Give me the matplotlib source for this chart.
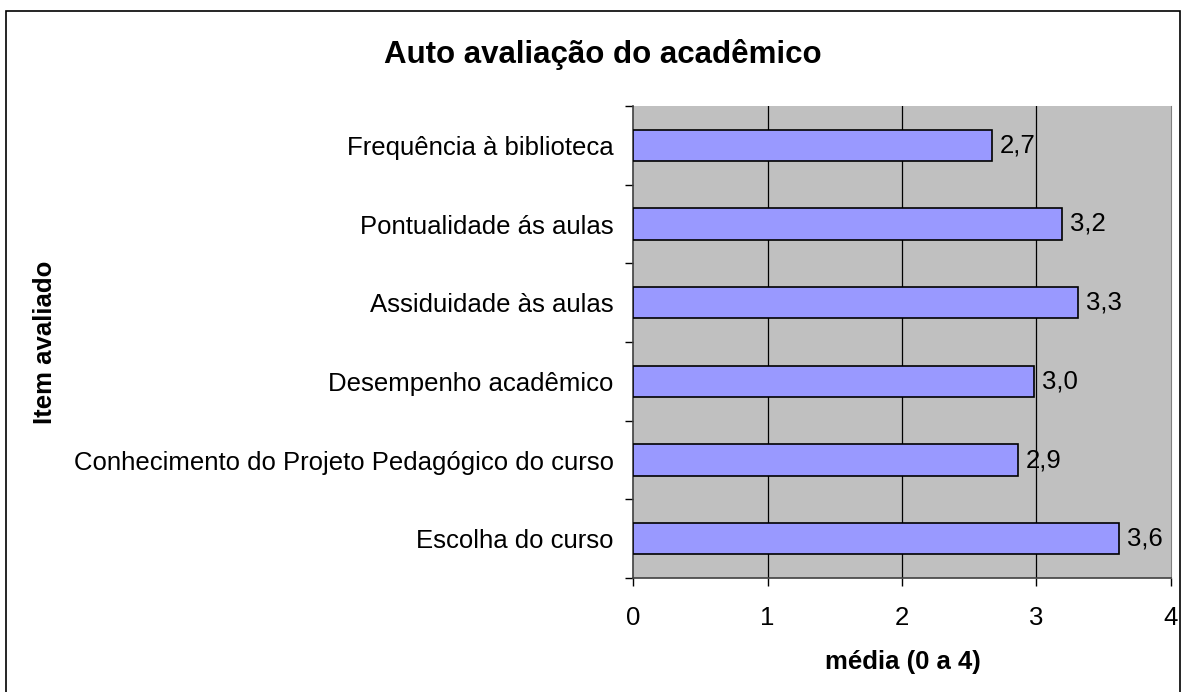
import numpy as np
import matplotlib
matplotlib.use("Agg")
import matplotlib.pyplot as plt
from matplotlib.patches import Rectangle

plt.rcParams['font.family'] = ['Liberation Sans', 'DejaVu Sans']

# itens de baixo para cima
itens = ["Escolha do curso",
         "Conhecimento do Projeto Pedagógico do curso",
         "Desempenho acadêmico",
         "Assiduidade às aulas",
         "Pontualidade ás aulas",
         "Frequência à biblioteca"]
medias = [3.61, 2.86, 2.98, 3.31, 3.19, 2.67]
xticks = [0, 1, 2, 3, 4]

fig = plt.figure(figsize=(11.86, 6.92), dpi=100)
ax = fig.add_axes([633/1186, 1-578/692, (1171-633)/1186, (578-106)/692])

y = np.arange(len(itens))
ax.set_facecolor("#C0C0C0")
ax.barh(y, medias, height=0.4, color="#9999FF", edgecolor="black", linewidth=1.2, zorder=3)
for yi, v in zip(y, medias):
    ax.text(v + 0.06, yi, ("%.1f" % v).replace(".", ","), va="center", ha="left", fontsize=18.5)

ax.set_xlim(0, 4)
ax.set_ylim(-0.5, len(itens) - 0.5)
ax.set_xticks(xticks)
ax.set_xticklabels([str(t) for t in xticks], fontsize=18.5)
ax.tick_params(axis="x", length=6, width=1, pad=14, direction="out")
for xv in xticks[1:-1]:
    ax.axvline(xv, color="black", linewidth=0.9, zorder=1)

ax.set_yticks(y)
ax.set_yticklabels(itens, fontsize=18.5)
ax.tick_params(axis="y", which="major", length=0, pad=14)
ax.set_yticks(np.arange(-0.5, len(itens)), minor=True)
ax.tick_params(axis="y", which="minor", length=6, width=1, direction="out")

ax.spines["top"].set_visible(False)
ax.spines["right"].set_color("#808080")
ax.spines["left"].set_color("#404040")
ax.spines["bottom"].set_color("#404040")
ax.spines["left"].set_linewidth(1.2)
ax.spines["bottom"].set_linewidth(1.2)

fig.text(603/1186, 1-55/692, "Auto avaliação do acadêmico", ha="center", va="center",
         fontsize=22.5, fontweight="bold")
fig.text(903/1186, 1-662/692, "média (0 a 4)", ha="center", va="center",
         fontsize=18.5, fontweight="bold")
fig.text(45/1186, 1-342/692, "Item avaliado", ha="center", va="center",
         fontsize=18.5, fontweight="bold", rotation=90)

fig.patches.append(Rectangle((6/1186, -10/692), 1174/1186, 691/692, transform=fig.transFigure,
                             fill=False, edgecolor="black", linewidth=1.2))

fig.savefig("out.png", dpi=100)
